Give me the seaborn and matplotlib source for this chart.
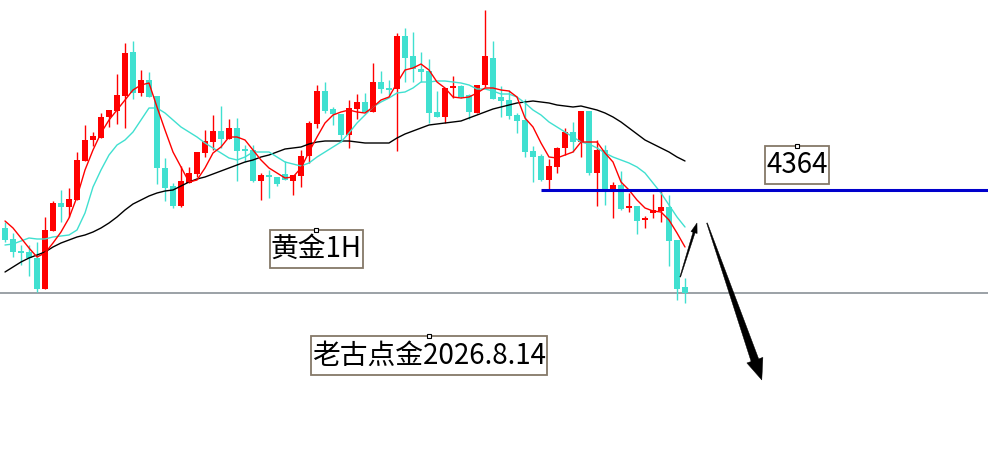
import numpy as np
import pandas as pd
import matplotlib
matplotlib.use("Agg")
import matplotlib.pyplot as plt
from matplotlib.patches import Polygon
from matplotlib.path import Path
from matplotlib.transforms import offset_copy
import seaborn as sns

# ---------------- data (hourly gold candles) ----------------
opens = [4345, 4339.5, 4333.5, 4333, 4330, 4314.5, 4343.5, 4357.5, 4355.5, 4359,
         4378.5, 4389, 4390, 4400.5, 4403.5, 4411, 4433, 4412.5, 4419, 4411,
         4375, 4366, 4356, 4367.5, 4372, 4382.5, 4388, 4393.5, 4389.5, 4395,
         4384.5, 4384, 4368.5, 4371.5, 4370.5, 4372, 4368.5, 4371, 4381, 4397,
         4413.5, 4404.5, 4402, 4391.5, 4404.5, 4408, 4403, 4418, 4415, 4414.5,
         4441, 4431, 4424.5, 4423.5, 4403, 4400.5, 4415, 4416, 4411.5, 4402.5,
         4416.5, 4430, 4410.5, 4409, 4401.5, 4399, 4383.5, 4381, 4369, 4375.5,
         4385, 4393, 4388, 4403.5, 4372.5, 4384, 4364.5, 4366.5, 4355, 4356,
         4349, 4352.5, 4353.5, 4355.5, 4339, 4315.5]
highs = [4348, 4342.5, 4336.5, 4336.5, 4338, 4350.5, 4358.5, 4364, 4365, 4383,
         4396.5, 4393, 4402.5, 4404, 4422, 4437.5, 4438.5, 4424, 4423, 4411,
         4380, 4367.5, 4376, 4375.5, 4383, 4394, 4401.5, 4406, 4399.5, 4400,
         4386.5, 4386.5, 4372.5, 4374, 4370.5, 4378.5, 4371.5, 4384, 4398.5, 4416.5,
         4418, 4405.5, 4402, 4409, 4412, 4412.5, 4427.5, 4423.5, 4419, 4442.5,
         4445, 4443, 4433, 4429.5, 4413.5, 4415, 4421, 4416.5, 4412, 4416.5,
         4454, 4438.5, 4416, 4414, 4402.5, 4409.5, 4386, 4382, 4379.5, 4385.5,
         4395, 4398, 4403.5, 4403.5, 4389, 4386.5, 4368, 4373.5, 4362.5, 4356,
         4351, 4362, 4364, 4361.5, 4339, 4320]
lows = [4338, 4330.5, 4326.5, 4321, 4313, 4314.5, 4343.5, 4348, 4350.5, 4359,
        4378.5, 4386, 4390, 4395.5, 4397, 4395, 4409.5, 4411, 4410.5, 4367,
        4358.5, 4355, 4355.5, 4367.5, 4370.5, 4380.5, 4384, 4385, 4389.5, 4368.5,
        4378, 4368, 4359, 4360, 4366, 4369, 4361.5, 4365.5, 4377.5, 4395,
        4402.5, 4396.5, 4388, 4385, 4399.5, 4403, 4403, 4412.5, 4411.5, 4383.5,
        4418, 4418, 4418, 4397.5, 4400.5, 4397.5, 4410, 4410, 4399.5, 4402.5,
        4415.5, 4409.5, 4400.5, 4399.5, 4392.5, 4380.5, 4368, 4368.5, 4363.5, 4372.5,
        4381.5, 4383, 4380.5, 4371.5, 4356, 4356.5, 4350, 4354, 4353, 4342,
        4345, 4350, 4348, 4326, 4309, 4307.5]
closes = [4339, 4333, 4332.5, 4330, 4314.5, 4344, 4357.5, 4355.5, 4359.5, 4379,
          4389, 4391, 4400.5, 4404, 4411.5, 4432.5, 4412.5, 4419, 4410.5, 4375,
          4365, 4356, 4368.5, 4372.5, 4383, 4388.5, 4393.5, 4389.5, 4395, 4383.5,
          4383.5, 4368.5, 4371.5, 4370.5, 4367, 4369, 4371.5, 4381, 4397.5, 4413.5,
          4403.5, 4402, 4391.5, 4405, 4408, 4403, 4418, 4414.5, 4414, 4441,
          4430, 4424.5, 4423, 4402.5, 4400.5, 4415, 4416, 4410.5, 4403, 4416.5,
          4431, 4409.5, 4408.5, 4401, 4398.5, 4383, 4380.5, 4369, 4376, 4385,
          4393, 4388, 4403.5, 4372.5, 4384, 4364.5, 4366.5, 4354.5, 4356, 4348.5,
          4350, 4354, 4355.5, 4338.5, 4314.5, 4312.5]

ma_fast = [4348.5, 4345, 4340, 4335, 4330.5, 4332.5, 4337.5, 4343, 4350, 4360.5,
           4374, 4384, 4392.5, 4399, 4404, 4409, 4414, 4416.5, 4417.5, 4405.5,
           4394, 4383, 4375.5, 4368, 4369, 4375, 4382.5, 4385.5, 4390.5, 4390.5,
           4389, 4384, 4379, 4375, 4372.5, 4370, 4370.5, 4375, 4383, 4390.5,
           4397.5, 4401.5, 4403, 4404, 4403, 4402.5, 4405.5, 4409, 4410.5, 4417.5,
           4424, 4425, 4427, 4424, 4418, 4415, 4410.5, 4410, 4410.5, 4412.5,
           4415, 4415, 4414, 4413.5, 4410.5, 4400, 4395.5, 4387.5, 4380.5, 4380,
           4381.5, 4383, 4388, 4388, 4388, 4382.5, 4378, 4368, 4364, 4359,
           4355, 4353.5, 4353, 4349, 4342.5, 4335.5]
ma_mid = [4336.5, 4337, 4338.5, 4340, 4339.5, 4339.5, 4340.5, 4341, 4341.5, 4344,
          4352.5, 4365.5, 4374, 4381.5, 4386.5, 4389, 4393, 4399, 4405, 4405,
          4402.5, 4399, 4395.5, 4393, 4390.5, 4387.5, 4385, 4382.5, 4380, 4379,
          4380.5, 4383, 4383, 4383, 4380.5, 4378, 4377, 4376, 4377.5, 4380.5,
          4383, 4385.5, 4388, 4392.5, 4397.5, 4401.5, 4405.5, 4408, 4410, 4412.5,
          4413, 4415, 4418, 4418, 4418.5, 4418.5, 4418, 4417.5, 4416.5, 4414.5,
          4414.5, 4413.5, 4412, 4412, 4410.5, 4407.5, 4404, 4401.5, 4398, 4395.5,
          4393, 4390.5, 4388, 4387, 4385, 4382.5, 4380.5, 4379, 4377.5, 4375.5,
          4372.5, 4367.5, 4362.5, 4356.5, 4350.5, 4345.5]
ma_slow = [4323, 4325.5, 4328, 4330, 4331.5, 4333, 4335.5, 4337.5, 4339, 4340.5,
           4341.5, 4343, 4345, 4347.5, 4350.5, 4354, 4357, 4359, 4361, 4362.5,
           4363.5, 4364, 4366, 4368, 4369.5, 4370.5, 4372, 4373.5, 4375, 4376.5,
           4378, 4379, 4380.5, 4381.5, 4383, 4384.5, 4385, 4385.5, 4387, 4388,
           4388.5, 4388.5, 4388.5, 4388.5, 4388, 4387.5, 4387.5, 4387.5, 4387.5, 4390,
           4392, 4393.5, 4395, 4396.5, 4397, 4397.5, 4398, 4398.5, 4400, 4401.5,
           4403, 4404.5, 4405.5, 4406.5, 4407.5, 4408, 4408.5, 4408, 4407.5, 4406.5,
           4406, 4405.5, 4406, 4405, 4404, 4402.5, 4400.5, 4398, 4395, 4392,
           4389, 4387, 4385, 4383, 4380.5, 4378.5]

level_price = 4364
level_start = 67
support_price = 4312.5
label_level = "4364"
label_title = "黄金1H"
label_sign = "老古点金2026.8.14"

# ---------------- style ----------------
sns.set_theme(style="white")
plt.rcParams["font.family"] = ["Noto Sans CJK SC", "DejaVu Sans"]

UP = "#FF0000"
DOWN = "#40E0D0"

fig = plt.figure(figsize=(9.88, 4.57), dpi=100)
ax = fig.add_axes([0, 0, 1, 1])
ax.set_xlim(-0.625, 122.875)
ax.set_ylim(4230.5, 4459)
ax.set_axis_off()

df = pd.DataFrame({"i": np.arange(len(opens)), "o": opens, "h": highs,
                   "l": lows, "c": closes})
colors = np.where(df["c"] >= df["o"], UP, DOWN)

# support line (behind candles)
ax.axhline(support_price, color="#80878e", lw=1.1, zorder=1)

ax.vlines(df["i"], df["l"], df["h"], colors=colors, lw=1.0, zorder=2)
ax.bar(df["i"], (df["c"] - df["o"]).abs(), bottom=np.minimum(df["o"], df["c"]),
       width=0.78, color=colors, linewidth=0, zorder=3)

ma = pd.DataFrame({"i": df["i"], "fast": ma_fast, "mid": ma_mid, "slow": ma_slow})
sns.lineplot(data=ma, x="i", y="slow", color="black", lw=1.0, ax=ax, zorder=4)
sns.lineplot(data=ma, x="i", y="mid", color="#40E0D0", lw=1.0, ax=ax, zorder=4)
sns.lineplot(data=ma, x="i", y="fast", color="#FF0000", lw=1.0, ax=ax, zorder=5)
ax.set_axis_off()

# level line
ax.hlines(level_price, level_start, ax.get_xlim()[1], color="#0000CC", lw=2.2, zorder=6)


# ---------------- labels ----------------
def tight_box(x0, y0, width, height, mutation_size):
    px = 0.04 * mutation_size
    py = 0.16 * mutation_size
    x0, y0 = x0 - px, y0 - py
    x1, y1 = x0 + width + 2 * px, y0 + height + 2 * py
    return Path([(x0, y0), (x1, y0), (x1, y1), (x0, y1), (x0, y0)], closed=True)


def label(x, y, s):
    ax.text(x, y, s, ha="center", va="center", fontsize=20, color="black", zorder=8,
            bbox=dict(boxstyle=tight_box, fc="white", ec="#857868", lw=1.3))
    tr = offset_copy(ax.transData, fig=fig, x=0, y=13.8, units="points")
    ax.plot([x], [y], marker="s", ms=2.2, mfc="white", mec="black", mew=0.8,
            transform=tr, zorder=9)


label(99.0, 4376.5, label_level)
label(38.9, 4334.5, label_title)
label(53.0, 4281.3, label_sign)


# ---------------- arrows ----------------
def tapered_arrow(tail, tip, w_tail, w_shaft, head_w, head_l):
    T = ax.transData
    p0 = np.array(T.transform(tail))
    p1 = np.array(T.transform(tip))
    d = p1 - p0
    u = d / np.hypot(*d)
    nrm = np.array([-u[1], u[0]])
    base = p1 - u * head_l
    pts = [p0 + nrm * w_tail / 2, base + nrm * w_shaft / 2, base + nrm * head_w / 2,
           p1, base - nrm * head_w / 2, base - nrm * w_shaft / 2, p0 - nrm * w_tail / 2]
    ax.add_patch(Polygon(pts, closed=True, transform=None, fc="black", ec="black",
                         lw=0.3, zorder=10))


tapered_arrow((84.4, 4320.5), (86.5, 4347.5), 0.8, 2.2, 6.5, 10)
tapered_arrow((87.75, 4347.5), (94.6, 4269.0), 0.8, 8.0, 17, 21)

fig.savefig("out.png", dpi=100)
